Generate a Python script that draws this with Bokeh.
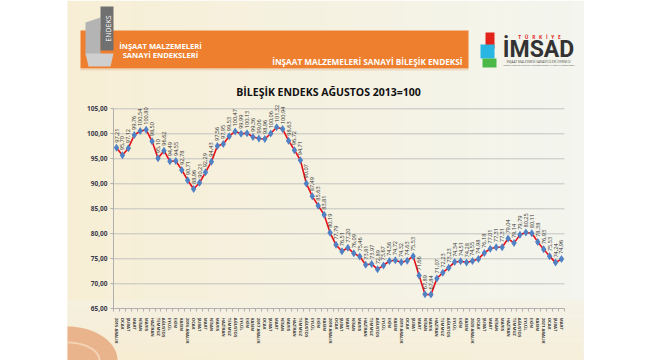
import math
from bokeh.plotting import figure
from bokeh.models import LinearAxis, FixedTicker, Range1d, ColumnDataSource
from bokeh.core.properties import value
from bokeh.embed import file_html
from bokeh.resources import INLINE

# ---------------- data ----------------
month_names = ["OCAK", "ŞUBAT", "MART", "NİSAN", "MAYIS", "HAZİRAN",
               "TEMMUZ", "AĞUSTOS", "EYLÜL", "EKİM", "KASIM", "ARALIK"]
start_year = 2015
start_month = 11  # ARALIK (0-based index in month_names)

index_values = [97.21, 95.70, 97.12, 99.76, 100.54, 100.80, 98.50, 95.10, 96.62, 94.49,
                94.55, 92.78, 90.71, 88.96, 90.21, 92.29, 94.43, 97.56, 97.95, 99.53,
                100.47, 99.99, 100.13, 99.36, 99.06, 98.96, 100.06, 101.32, 100.94, 98.63,
                96.72, 94.71, 90.07, 87.49, 85.63, 83.81, 80.19, 77.79, 76.51, 77.20,
                76.09, 75.46, 73.81, 73.97, 72.89, 73.67, 74.56, 74.72, 74.32, 74.63,
                75.53, 71.66, 67.89, 67.84, 71.07, 72.23, 73.23, 74.34, 74.51, 74.28,
                74.55, 74.98, 76.18, 77.01, 77.31, 77.31, 79.04, 78.14, 79.79, 80.25,
                80.11, 78.38, 76.93, 75.53, 74.24, 74.96]

y_ticks = [65, 70, 75, 80, 85, 90, 95, 100, 105]
y_tick_labels = ["65,00", "70,00", "75,00", "80,00", "85,00", "90,00", "95,00", "100,00", "105,00"]

chart_title = "BİLEŞİK ENDEKS AĞUSTOS 2013=100"
header_left = ["İNŞAAT MALZEMELERİ", "SANAYİ ENDEKSLERİ"]
header_right = "İNŞAAT MALZEMELERİ SANAYİ BİLEŞİK ENDEKSİ"

n = len(index_values)
x_idx = list(range(n))
x_labels = []
for i in range(n):
    m = (start_month + i) % 12
    yr = start_year + (start_month + i) // 12
    x_labels.append(f"{yr} {month_names[m]}" if m == 11 else month_names[m])
value_labels = [f"{v:.2f}".replace(".", ",") for v in index_values]

# ---------------- layout mapping (page pixels -> data) ----------------
W, H = 650, 360
OFF = 0
X0, DX = 116.0, 5.933      # page x of first point, px per month
Y105, DY = 108.3, 5.0      # page y of 105 gridline, px per unit

def dx(X):
    return (X - X0) / DX

def dy(Y):
    return 105 - (Y - Y105) / DY

p = figure(width=W, height=H, x_range=Range1d(dx(OFF), dx(OFF + W)),
           y_range=Range1d(dy(OFF + H), dy(OFF)), x_axis_type=None, y_axis_type=None,
           toolbar_location=None, output_backend="svg", min_border=0,
           outline_line_color=None, background_fill_color="white",
           border_fill_color="white")

# slide background: horizontal gradient strips
def hexmix(c1, c2, t):
    a = [int(c1[i:i + 2], 16) for i in (1, 3, 5)]
    b = [int(c2[i:i + 2], 16) for i in (1, 3, 5)]
    return "#%02x%02x%02x" % tuple(round(a[k] + (b[k] - a[k]) * t) for k in range(3))

ns = 40
sl, sr, sc = [], [], []
for k in range(ns):
    xa = 67 + (583 - 67) * k / ns
    xb = 67 + (583 - 67) * (k + 1) / ns + 0.5
    sl.append(dx(xa)); sr.append(dx(xb))
    t = k / (ns - 1)
    sc.append(hexmix("#f7eed5", "#f3f5ee", t))
p.quad(left=sl, right=sr, top=dy(0), bottom=dy(360), fill_color=sc, line_color=None)
# bottom beige band
nb = 10
bl, br_, bc = [], [], []
for k in range(nb):
    ya = 300 + 60 * k / nb
    bl.append(dy(ya)); br_.append(dy(ya + 6.5))
    bc.append(hexmix("#f5f1e3", "#f6ecd2", k / (nb - 1)))
p.quad(left=dx(67), right=dx(583), top=bl, bottom=br_, fill_color=bc, line_color=None, fill_alpha=0.7)

# bottom-left decorative curve
cx, cy = [], []
for k in range(21):
    a = math.pi / 2 * k / 20
    cx.append(dx(67 + 50 * math.sin(a)))
    cy.append(dy(360 - 34 * math.cos(a)))
p.patch(x=[dx(67)] + cx + [dx(67)], y=[dy(360)] + cy + [dy(360)], fill_color="#e9b48c", line_color=None)
cx2, cy2 = [], []
for k in range(21):
    a = math.pi / 2 * k / 20
    cx2.append(dx(67 + 32 * math.sin(a)))
    cy2.append(dy(360 - 18 * math.cos(a)))
p.line(x=cx2, y=cy2, line_color="#f3d2b6", line_width=2)

# header band
p.quad(left=dx(80), right=dx(468), top=dy(30), bottom=dy(68), fill_color="#ee7f2f", line_color=None)
p.quad(left=dx(80), right=dx(468), top=dy(68), bottom=dy(70), fill_color="#e9c8a8", line_color=None, fill_alpha=0.6)

# left logo (grey blocks)
p.patches(xs=[[dx(85), dx(100), dx(100), dx(85)],
              [dx(100), dx(113), dx(113), dx(100)],
              [dx(85), dx(113), dx(110), dx(88)]],
          ys=[[dy(22), dy(17), dy(55), dy(55)],
              [dy(6), dy(6), dy(50), dy(50)],
              [dy(53), dy(53), dy(66), dy(66)]],
          fill_color=["#b4b4b4", "#707070", "#cfcfcf"], line_color=None)
p.text(x=[dx(108)], y=[dy(28)], text=["ENDEKS"], angle=math.pi / 2, text_align="center",
       text_baseline="middle", text_font=value("Open Sans"), text_font_size="7px",
       text_color="white")

# header texts
p.text(x=[dx(160), dx(160)], y=[dy(45), dy(54)], text=header_left, text_align="center",
       text_baseline="middle", text_font=value("Open Sans"), text_font_style="bold",
       text_font_size="7.6px", text_color="white")
p.text(x=[dx(462)], y=[dy(61)], text=[header_right], text_align="right",
       text_baseline="middle", text_font=value("Open Sans"), text_font_style="bold",
       text_font_size="8.2px", text_color="white")

# IMSAD logo
p.quad(left=[dx(485), dx(480), dx(482)], right=[dx(494), dx(494), dx(496)],
       top=[dy(32), dy(44), dy(58)], bottom=[dy(48), dy(58), dy(67)],
       fill_color=["#e2231a", "#29b6e3", "#4cb848"], line_color=None)
nb_sp = "\u00a0\u00a0\u00a0"
p.text(x=[dx(539)], y=[dy(36)], text=[nb_sp.join("TÜRKİYE")], text_align="center",
       text_baseline="middle", text_font=value("Open Sans"), text_font_style="bold",
       text_font_size="4.8px", text_color="#e2231a")
p.text(x=[dx(538)], y=[dy(48.5)], text=["İMSAD"], text_align="center",
       text_baseline="middle", text_font=value("Roboto"), text_font_style="bold",
       text_font_size="23px", text_color="#333333")
p.text(x=[dx(538), dx(538)], y=[dy(61), dy(65)],
       text=["İNŞAAT MALZEMESİ SANAYİCİLERİ DERNEĞİ", "ASSOCIATION OF TURKISH CONSTRUCTION MATERIAL PRODUCERS"],
       text_align="center", text_baseline="middle", text_font=value("Open Sans"),
       text_font_size=["3.2px", "2.3px"], text_color="#555555")

# chart title
p.text(x=[dx(328)], y=[dy(91)], text=[chart_title], text_align="center", text_baseline="middle",
       text_font=value("Open Sans"), text_font_style="bold", text_font_size="10.5px",
       text_color="#111111")

# gridlines
p.segment(x0=-0.5, x1=n - 0.5, y0=y_ticks[1:], y1=y_ticks[1:], line_color="#c4c4c0", line_width=1)
p.segment(x0=-0.7, x1=-0.5, y0=y_ticks, y1=y_ticks, line_color="#c4c4c0", line_width=1)

# axes
yaxis = LinearAxis(fixed_location=-0.5, bounds=(y_ticks[0], y_ticks[-1]),
                   ticker=FixedTicker(ticks=y_ticks))
yaxis.major_label_overrides = {t: l for t, l in zip(y_ticks, y_tick_labels)}
yaxis.axis_line_color = "#b0b0b0"
yaxis.major_tick_line_color = "#b0b0b0"
yaxis.major_tick_out = 3
yaxis.major_tick_in = 0
yaxis.minor_tick_line_color = None
yaxis.major_label_standoff = 3
yaxis.major_label_text_font = "Open Sans"
yaxis.major_label_text_font_style = "bold"
yaxis.major_label_text_font_size = "6.5px"
yaxis.major_label_text_color = "#3a3a4a"
p.add_layout(yaxis, "left")

xaxis = LinearAxis(fixed_location=y_ticks[0], bounds=(-0.5, n - 0.5),
                   ticker=FixedTicker(ticks=x_idx, minor_ticks=[i - 0.5 for i in range(n + 1)]))
xaxis.major_label_overrides = {i: l for i, l in zip(x_idx, x_labels)}
xaxis.major_label_orientation = "vertical"
xaxis.axis_line_color = "#b0b0b0"
xaxis.major_tick_line_color = None
xaxis.minor_tick_line_color = "#b0b0b0"
xaxis.minor_tick_out = 3
xaxis.minor_tick_in = 0
xaxis.major_label_standoff = 3
xaxis.major_label_text_font = "Open Sans"
xaxis.major_label_text_font_style = "bold"
xaxis.major_label_text_font_size = "4.2px"
xaxis.major_label_text_color = "#333333"
p.add_layout(xaxis, "below")

# series
src = ColumnDataSource(dict(x=x_idx, y=index_values, lab=value_labels))
p.line("x", "y", source=src, line_color="#e3101a", line_width=1.6)
p.scatter("x", "y", source=src, marker="diamond", size=8, fill_color="#4f81c4", line_color=None)
p.text("x", "y", text="lab", source=src, angle=math.pi / 2, text_align="left",
       text_baseline="middle", y_offset=-5, text_font=value("Open Sans"),
       text_font_size="5.6px", text_color="#333333")

open("out.html", "w").write(file_html(p, INLINE))
